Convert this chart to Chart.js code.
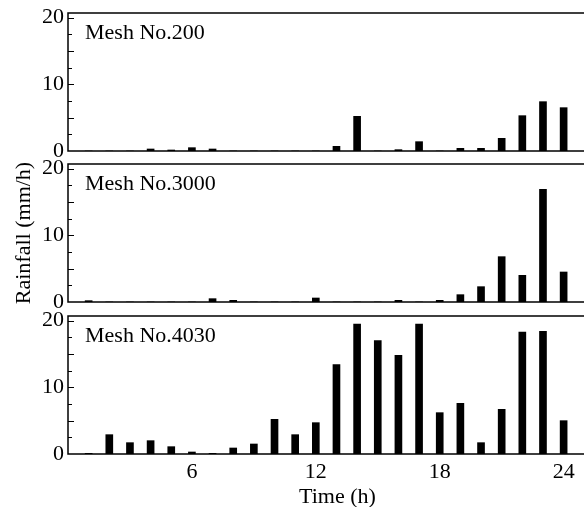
<!DOCTYPE html>
<html>
<head>
<meta charset="utf-8">
<script src="https://cdn.jsdelivr.net/npm/chart.js@4"></script>
<style>
  html, body { margin: 0; padding: 0; background: #fff; overflow: hidden; width: 584px; height: 507px; }
  canvas { position: absolute; left: 0; }
</style>
</head>
<body>
<canvas id="p1" width="608" height="165" style="top:0px"></canvas>
<canvas id="p2" width="608" height="165" style="top:151px"></canvas>
<canvas id="p3" width="608" height="206" style="top:302px"></canvas>
<script>
// hourly rainfall (mm/h), hours 1..24
const hours = [1,2,3,4,5,6,7,8,9,10,11,12,13,14,15,16,17,18,19,20,21,22,23,24];
const mesh200  = [0,0,0,0.3,0.15,0.5,0.3,0,0,0,0,0,0.7,5.2,0,0.2,1.4,0,0.4,0.4,1.9,5.3,7.4,6.5];
const mesh3000 = [0.2,0,0,0,0,0,0.5,0.25,0,0,0,0.6,0,0,0,0.25,0,0.25,1.1,2.3,6.8,4.0,16.9,4.5];
const mesh4030 = [0.1,2.9,1.7,2.0,1.1,0.3,0.1,0.9,1.5,5.2,2.9,4.7,13.4,19.5,17.0,14.8,19.5,6.2,7.6,1.7,6.7,18.3,18.4,5.0];
const xTicks = [6,12,18,24];
const yTicks = [0,10,20];

const serif = '"Liberation Serif", "Times New Roman", serif';

// frame, inward y ticks and panel name
const framePlugin = {
  id: 'frame',
  afterDraw(chart) {
    const {ctx, chartArea: a, scales: {y}} = chart;
    ctx.save();
    ctx.strokeStyle = '#000';
    ctx.lineWidth = 1.5;
    ctx.beginPath();
    ctx.moveTo(a.right, a.top);
    ctx.lineTo(a.left, a.top);
    ctx.lineTo(a.left, a.bottom);
    ctx.lineTo(a.right, a.bottom);
    ctx.stroke();
    ctx.lineWidth = 1;
    for (let v = 2.5; v <= 20; v += 2.5) {
      const py = Math.round(y.getPixelForValue(v)) + 0.5;
      const len = v % 5 === 0 ? 6 : 4;
      ctx.beginPath();
      ctx.moveTo(a.left, py);
      ctx.lineTo(a.left + len, py);
      ctx.stroke();
    }
    ctx.fillStyle = '#000';
    ctx.font = '22px ' + serif;
    ctx.textBaseline = 'alphabetic';
    ctx.fillText(chart.options.plugins.frame.name, a.left + 17, a.top + 26);
    ctx.restore();
  }
};

function makePanel(id, name, values, bottom, yTitle) {
  new Chart(document.getElementById(id), {
    type: 'bar',
    data: {
      datasets: [{
        data: hours.map((h, i) => ({x: h, y: values[i]})),
        backgroundColor: '#000',
        borderWidth: 0,
        barThickness: 7
      }]
    },
    options: {
      responsive: false,
      animation: false,
      layout: {padding: {top: bottom ? 14 : 13, right: 1, bottom: bottom ? 0 : 14, left: 0}},
      plugins: {legend: {display: false}, tooltip: {enabled: false}, frame: {name: name}},
      scales: {
        x: {
          type: 'linear',
          min: 0,
          max: 26.1,
          offset: false,
          display: bottom,
          afterBuildTicks: s => { s.ticks = xTicks.map(v => ({value: v})); },
          afterFit: s => { s.height = bottom ? 54 : 0; },
          grid: {display: false, drawTicks: false},
          border: {display: false},
          ticks: {color: '#000', padding: 5, maxRotation: 0, font: {family: serif, size: 22}},
          title: {display: true, text: 'Time (h)', color: '#000', padding: {top: 0, bottom: 0},
                  font: {family: serif, size: 22, lineHeight: 1}}
        },
        y: {
          min: 0,
          max: 20.7,
          afterBuildTicks: s => { s.ticks = yTicks.map(v => ({value: v})); },
          afterFit: s => { s.width = 68; s.paddingTop = 0; s.paddingBottom = 0; },
          grid: {display: false, drawTicks: false},
          border: {display: false},
          ticks: {color: '#000', padding: 4, font: {family: serif, size: 22}},
          title: {display: !!yTitle, text: yTitle || '', color: '#000', padding: {top: 11, bottom: 0},
                  font: {family: serif, size: 22}}
        }
      }
    },
    plugins: [framePlugin]
  });
}

makePanel('p1', 'Mesh No.200', mesh200, false);
makePanel('p2', 'Mesh No.3000', mesh3000, false, 'Rainfall (mm/h)');
makePanel('p3', 'Mesh No.4030', mesh4030, true);
</script>
</body>
</html>
